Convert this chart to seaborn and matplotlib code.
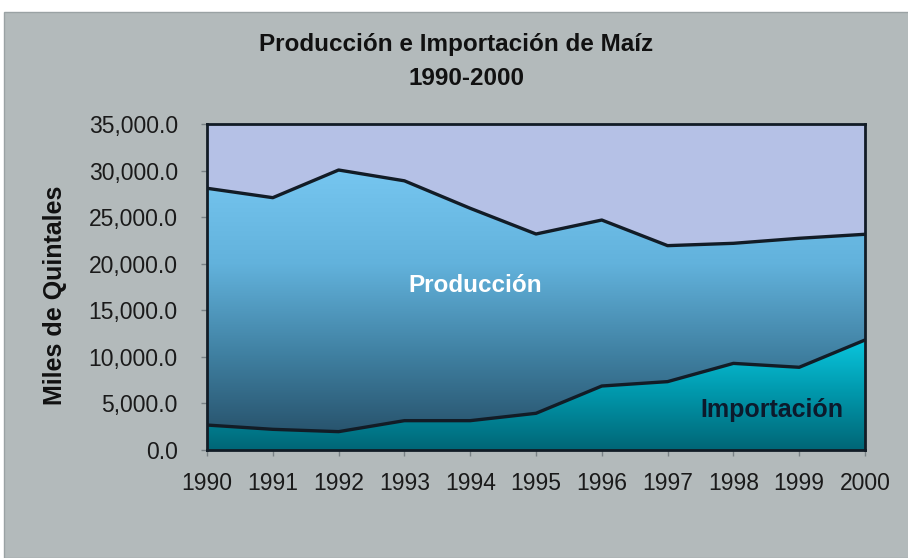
import numpy as np
import matplotlib
matplotlib.use("Agg")
import matplotlib.pyplot as plt
import seaborn as sns
from matplotlib.colors import LinearSegmentedColormap
from matplotlib.patches import Rectangle
from matplotlib.ticker import FuncFormatter

# ── Data (miles de quintales) ─────────────
years = [1990, 1991, 1992, 1993, 1994, 1995, 1996, 1997, 1998, 1999, 2000]
importacion = [2680, 2220, 1970, 3150, 3150, 3940, 6870, 7340, 9300, 8880, 11810]
produccion = [25420, 24870, 28090, 25750, 22800, 19250, 17820, 14600, 12890, 13850, 11350]

total = [i + p for i, p in zip(importacion, produccion)]

sns.set_style("white")
plt.rcParams['font.family'] = ['Liberation Sans', 'DejaVu Sans']

fig = plt.figure(figsize=(9.08, 5.58), dpi=100, facecolor="white")
fig.patches.append(Rectangle((4 / 908, 0), 1, 1 - 12 / 558, transform=fig.transFigure,
                             facecolor="#b3babb", edgecolor="#9aa2a4", lw=1, zorder=-1))

ax = fig.add_axes([207 / 908, 1 - 450 / 558, 658 / 908, 326 / 558])
ax.set_facecolor("#b5c1e6")

# gradient fills clipped to the stacked areas
prod_cmap = LinearSegmentedColormap.from_list("prod", ["#234a62", "#3f7fa0", "#62b2dc", "#76c6f0"])
imp_cmap = LinearSegmentedColormap.from_list("imp", ["#006676", "#0096aa", "#0ac6de"])

grad = np.linspace(0, 1, 256).reshape(-1, 1)

poly_p = ax.fill_between(years, importacion, total, facecolor="none", lw=0)
im_p = ax.imshow(grad, cmap=prod_cmap, origin="lower", aspect="auto",
                 extent=[years[0], years[-1], 0, max(total)], zorder=1)
im_p.set_clip_path(poly_p.get_paths()[0], transform=ax.transData)

poly_i = ax.fill_between(years, 0, importacion, facecolor="none", lw=0)
im_i = ax.imshow(grad, cmap=imp_cmap, origin="lower", aspect="auto",
                 extent=[years[0], years[-1], 0, max(importacion)], zorder=1)
im_i.set_clip_path(poly_i.get_paths()[0], transform=ax.transData)

sns.lineplot(x=years, y=total, color="#121c26", lw=2.4, ax=ax, zorder=3)
sns.lineplot(x=years, y=importacion, color="#121c26", lw=2.4, ax=ax, zorder=3)

ax.set_xlim(1990, 2000)
ax.set_ylim(0, 35000)
ax.set_xticks(years)
ax.set_yticks(np.arange(0, 35001, 5000))
ax.yaxis.set_major_formatter(FuncFormatter(lambda v, _: f"{v:,.1f}"))
ax.tick_params(axis="both", which="major", direction="out", length=4, width=1,
               color="#7a8286", labelcolor="#1a1a1a")
ax.tick_params(axis="y", pad=17, left=True, labelsize=16.5)
ax.tick_params(axis="x", pad=12, bottom=True, labelsize=16.5)

for s in ax.spines.values():
    s.set_color("#121c26")
    s.set_linewidth(2)
    s.set_zorder(4)

ax.text(1994.07, 17700, "Producción", color="white", fontsize=17.5,
        fontweight="bold", ha="center", va="center", zorder=5)
ax.text(1998.59, 4300, "Importación", color="#0c1a2c", fontsize=18,
        fontweight="bold", ha="center", va="center", zorder=5)

fig.text(456 / 908, 1 - 45 / 558, "Producción e Importación de Maíz",
         ha="center", va="center", fontsize=17.5, fontweight="bold", color="#111111")
fig.text(466 / 908, 1 - 78.5 / 558, "1990-2000",
         ha="center", va="center", fontsize=17.5, fontweight="bold", color="#111111")
fig.text(55 / 908, 1 - 295 / 558, "Miles de Quintales", rotation=90,
         ha="center", va="center", fontsize=18, fontweight="bold", color="#111111")

fig.savefig("out.png", dpi=100, facecolor=fig.get_facecolor())
